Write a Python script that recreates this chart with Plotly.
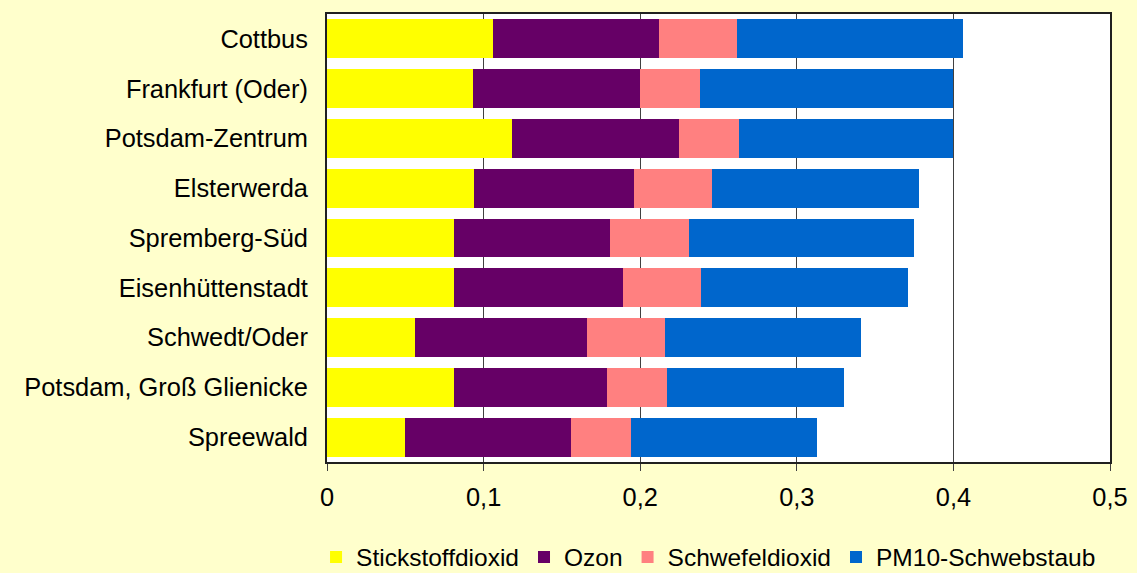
import plotly.graph_objects as go

# Messstationen (von oben nach unten)
stations = [
    "Cottbus",
    "Frankfurt (Oder)",
    "Potsdam-Zentrum",
    "Elsterwerda",
    "Spremberg-Süd",
    "Eisenhüttenstadt",
    "Schwedt/Oder",
    "Potsdam, Groß Glienicke",
    "Spreewald",
]

# Anteile je Schadstoff
stickstoffdioxid = [0.106, 0.093, 0.118, 0.094, 0.081, 0.081, 0.056, 0.081, 0.050]
ozon = [0.106, 0.107, 0.107, 0.102, 0.100, 0.108, 0.110, 0.098, 0.106]
schwefeldioxid = [0.050, 0.038, 0.038, 0.050, 0.050, 0.050, 0.050, 0.038, 0.038]
pm10 = [0.144, 0.162, 0.137, 0.132, 0.144, 0.132, 0.125, 0.113, 0.119]

x_ticks = [0, 0.1, 0.2, 0.3, 0.4, 0.5]

series = [
    ("Stickstoffdioxid", stickstoffdioxid, "#FFFF00"),
    ("Ozon", ozon, "#660066"),
    ("Schwefeldioxid", schwefeldioxid, "#FF8080"),
    ("PM10-Schwebstaub", pm10, "#0066CC"),
]

fig = go.Figure()
for name, values, color in series:
    fig.add_trace(
        go.Bar(
            y=stations,
            x=values,
            name=name,
            orientation="h",
            marker=dict(color=color, line=dict(width=0)),
        )
    )

font_family = "Liberation Sans, Arial, sans-serif"

fig.update_layout(
    width=1137,
    height=573,
    barmode="stack",
    bargap=0.22,
    separators=", ",
    paper_bgcolor="#FFFFCC",
    plot_bgcolor="#FFFFFF",
    margin=dict(l=327, r=27, t=14, b=111, autoexpand=False),
    font=dict(family=font_family, size=25.4, color="#000000"),
    legend=dict(
        orientation="h",
        x=-0.014,
        xanchor="left",
        y=-0.212,
        yanchor="middle",
        font=dict(size=24.5),
        bgcolor="rgba(0,0,0,0)",
        traceorder="normal",
        itemwidth=30,
        tracegroupgap=0,
    ),
    xaxis=dict(
        range=[0, 0.5],
        tickvals=x_ticks,
        tickformat=".1~f",
        showgrid=True,
        gridcolor="#404040",
        gridwidth=1,
        showline=True,
        linecolor="#202020",
        linewidth=2,
        mirror=True,
        ticks="outside",
        ticklen=7,
        tickcolor="#404040",
        ticklabelstandoff=5,
        zeroline=False,
        tickfont=dict(size=25.4),
        fixedrange=True,
    ),
    yaxis=dict(
        categoryorder="array",
        categoryarray=stations,
        autorange="reversed",
        showline=True,
        linecolor="#202020",
        linewidth=2,
        mirror=True,
        ticks="",
        ticklabelstandoff=12,
        showgrid=False,
        tickfont=dict(size=25.4),
        fixedrange=True,
    ),
)

fig.write_html("out.html")
